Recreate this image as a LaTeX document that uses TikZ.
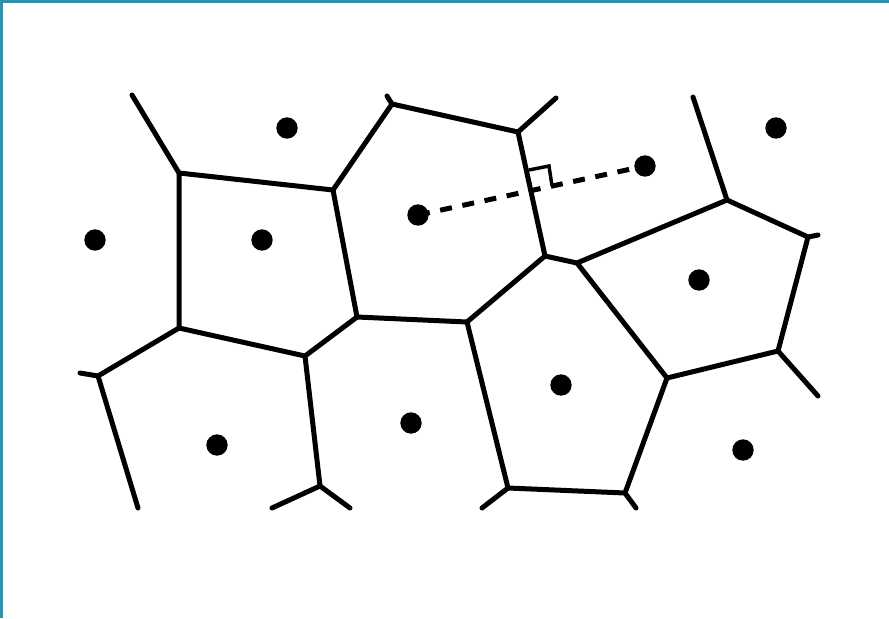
\documentclass[tikz,border=0pt]{standalone}
\definecolor{frame}{RGB}{51,145,176}
\tikzset{
  edge/.style={line width=3.75pt, line cap=round, line join=round},
  site/.style={circle, fill=black, inner sep=0pt, minimum size=16pt},
  dashline/.style={line width=3.75pt, dash pattern=on 9pt off 8pt},
  ramark/.style={line width=2.6pt, line join=miter}
}
\begin{document}
\begin{tikzpicture}[x=0.75pt, y=-0.75pt]
\useasboundingbox (0,0) rectangle (889,618);
\fill[white] (0,0) rectangle (889,618);
\fill[frame] (0,0) rectangle (889,3);
\fill[frame] (0,0) rectangle (3,618);
% Voronoi vertices
\coordinate (A) at (179,173);
\coordinate (B) at (333,190);
\coordinate (C) at (392,104);
\coordinate (D) at (518,132);
\coordinate (E) at (545,256);
\coordinate (F) at (577,263);
\coordinate (G) at (727,200);
\coordinate (H) at (808,237);
\coordinate (I) at (778,351);
\coordinate (J) at (667,378);
\coordinate (K) at (625,493);
\coordinate (L) at (508,488);
\coordinate (M) at (467,322);
\coordinate (N) at (357,317);
\coordinate (O) at (305,356);
\coordinate (P) at (179,328);
\coordinate (Q) at (98,376);
\coordinate (R) at (320,486);
% free ends
\coordinate (a1) at (132,95);
\coordinate (c1) at (387,96);
\coordinate (d1) at (556,98);
\coordinate (g1) at (693,97);
\coordinate (h1) at (818,235);
\coordinate (i1) at (818,396);
\coordinate (k1) at (636,508);
\coordinate (l1) at (482,508);
\coordinate (q1) at (80,373);
\coordinate (q2) at (138,508);
\coordinate (r1) at (272,508);
\coordinate (r2) at (350,508);
% edges
\draw[edge] (a1) -- (A) -- (B) -- (C) -- (D) -- (E) -- (F) -- (G) -- (H) -- (I) -- (J) -- (K) -- (L) -- (M) -- (E);
\draw[edge] (C) -- (c1);
\draw[edge] (D) -- (d1);
\draw[edge] (G) -- (g1);
\draw[edge] (H) -- (h1);
\draw[edge] (I) -- (i1);
\draw[edge] (J) -- (F);
\draw[edge] (K) -- (k1);
\draw[edge] (L) -- (l1);
\draw[edge] (M) -- (N) -- (B);
\draw[edge] (N) -- (O) -- (P) -- (A);
\draw[edge] (P) -- (Q) -- (q1);
\draw[edge] (Q) -- (q2);
\draw[edge] (O) -- (R) -- (r1);
\draw[edge] (R) -- (r2);
% sites
\node[site] (s1) at (287,128) {};
\node[site] (s2) at (95,240) {};
\node[site] (s3) at (262,240) {};
\node[site] (s4) at (418,215) {};
\node[site] (s5) at (645,166) {};
\node[site] (s6) at (776,128) {};
\node[site] (s7) at (699,280) {};
\node[site] (s8) at (561,385) {};
\node[site] (s9) at (411,423) {};
\node[site] (s10) at (217,445) {};
\node[site] (s11) at (743,450) {};
% dashed connection and right angle mark
\draw[dashline] (s4.center) -- (s5.center);
\draw[ramark] (529,170) -- (549,166) -- (552,186);
\end{tikzpicture}
\end{document}
